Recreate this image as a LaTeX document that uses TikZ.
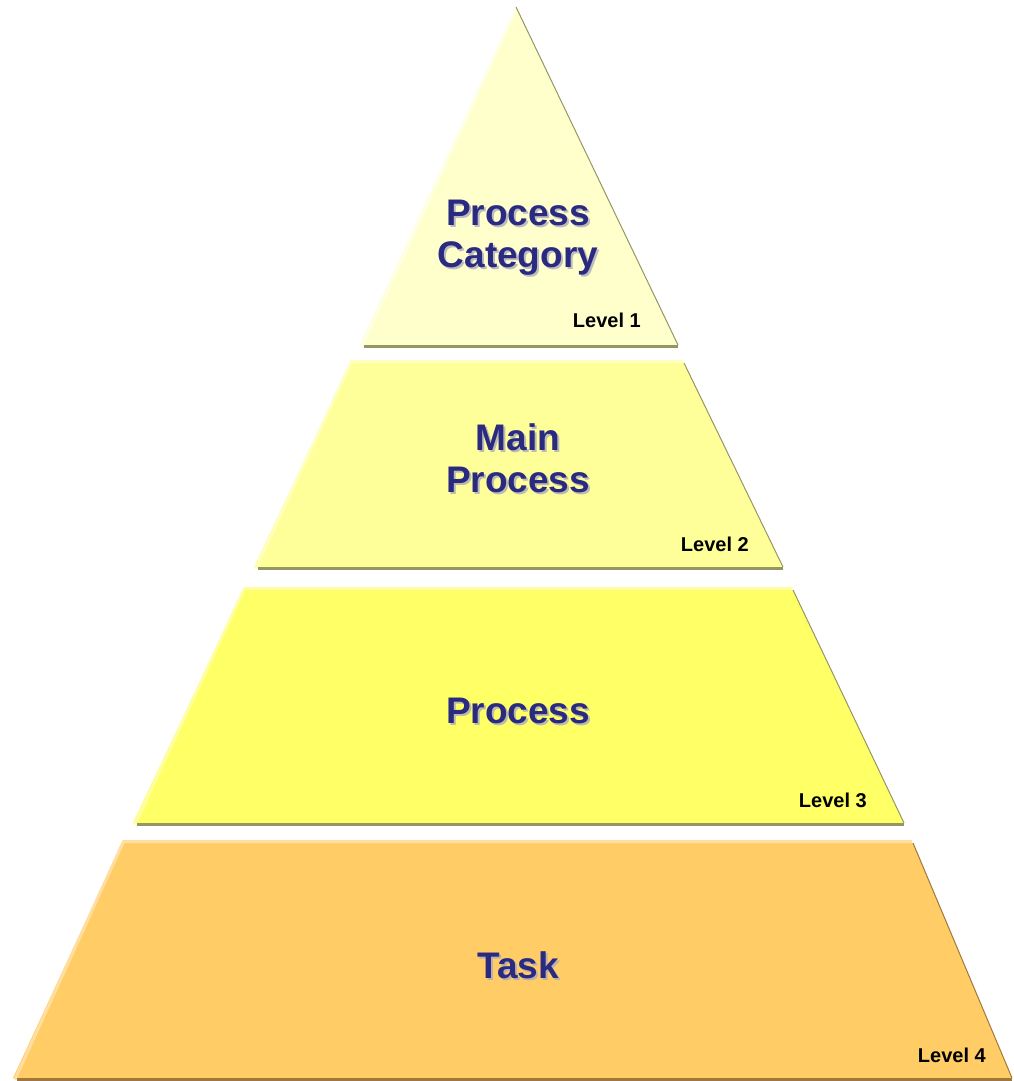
\documentclass[tikz,border=0pt]{standalone}
\usepackage{fontspec}
\setmainfont{Liberation Sans}
\definecolor{navy}{RGB}{42,42,128}
\definecolor{cA}{RGB}{255,255,204}
\definecolor{cB}{RGB}{255,255,153}
\definecolor{cC}{RGB}{255,255,102}
\definecolor{cD}{RGB}{255,204,102}
\definecolor{hA}{RGB}{255,255,225}
\definecolor{hB}{RGB}{255,255,190}
\definecolor{hC}{RGB}{255,255,160}
\definecolor{hD}{RGB}{255,222,160}
\definecolor{sY}{RGB}{150,150,100}
\definecolor{sD}{RGB}{160,120,60}
\definecolor{txtshadow}{RGB}{170,170,190}
\tikzset{
  title/.style={font=\bfseries\fontsize{37}{42}\selectfont, text=navy, inner sep=0pt, anchor=base},
  titleshadow/.style={title, text=txtshadow, opacity=0.8},
  lvl/.style={font=\bfseries\fontsize{20}{24}\selectfont, text=black, inner sep=0pt, anchor=east},
  hilite/.style={line width=3pt, line join=round},
  shadowline/.style={line width=3pt},
  edgeline/.style={line width=1pt}
}
\begin{document}
\begin{tikzpicture}[x=1pt,y=-1pt]
\useasboundingbox (0,0) rectangle (1013,1081);
% ---------- Layer 1 ----------
\coordinate (a1) at (516,7);
\coordinate (b1l) at (360,345);
\coordinate (b1r) at (678,345);
\fill[cA] (a1) -- (b1r) -- (b1l) -- cycle;
\draw[hA, hilite] ([xshift=2pt,yshift=-1.5pt]b1l) -- ([yshift=-3pt]a1);
\draw[sY, shadowline] ([xshift=4pt,yshift=-1.5pt]b1l) -- ([yshift=-1.5pt]b1r);
\draw[sY, edgeline] (a1) -- (b1r);
% ---------- Layer 2 ----------
\coordinate (t2l) at (350,363);
\coordinate (t2r) at (684,363);
\coordinate (b2l) at (254,567);
\coordinate (b2r) at (783,567);
\fill[cB] (t2l) -- (t2r) -- (b2r) -- (b2l) -- cycle;
\draw[hB, hilite] ([xshift=2pt,yshift=-1.5pt]b2l) -- ([xshift=1.5pt,yshift=1.5pt]t2l) -- ([xshift=-1pt,yshift=1.5pt]t2r);
\draw[sY, shadowline] ([xshift=4pt,yshift=-1.5pt]b2l) -- ([yshift=-1.5pt]b2r);
\draw[sY, edgeline] (t2r) -- (b2r);
% ---------- Layer 3 ----------
\coordinate (t3l) at (243,590);
\coordinate (t3r) at (793,590);
\coordinate (b3l) at (133,823);
\coordinate (b3r) at (904,823);
\fill[cC] (t3l) -- (t3r) -- (b3r) -- (b3l) -- cycle;
\draw[hC, hilite] ([xshift=2pt,yshift=-1.5pt]b3l) -- ([xshift=1.5pt,yshift=1.5pt]t3l) -- ([xshift=-1pt,yshift=1.5pt]t3r);
\draw[sY, shadowline] ([xshift=4pt,yshift=-1.5pt]b3l) -- ([yshift=-1.5pt]b3r);
\draw[sY, edgeline] (t3r) -- (b3r);
% ---------- Layer 4 ----------
\coordinate (t4l) at (122,843);
\coordinate (t4r) at (913,843);
\coordinate (b4l) at (13,1078);
\coordinate (b4r) at (1012,1078);
\fill[cD] (t4l) -- (t4r) -- (b4r) -- (b4l) -- cycle;
\draw[hD, hilite] ([xshift=2pt,yshift=-1.5pt]b4l) -- ([xshift=1.5pt,yshift=1.5pt]t4l) -- ([xshift=-1pt,yshift=1.5pt]t4r);
\draw[sD, shadowline] ([xshift=4pt,yshift=-1.5pt]b4l) -- ([yshift=-1.5pt]b4r);
\draw[sD, edgeline] (t4r) -- (b4r);
% ---------- Titles ----------
\node[titleshadow] (s1a) at (520,227) {Process};
\node[titleshadow] (s1b) at (520,269) {Category};
\node[title] (n1a) at (518,225) {Process};
\node[title] (n1b) at (518,267) {Category};
\node[titleshadow] (s2a) at (520,452) {Main};
\node[titleshadow] (s2b) at (520,494) {Process};
\node[title] (n2a) at (518,450) {Main};
\node[title] (n2b) at (518,492) {Process};
\node[titleshadow] (s3) at (520,725) {Process};
\node[title] (n3) at (518,723) {Process};
\node[titleshadow] (s4) at (520,980) {Task};
\node[title] (n4) at (518,978) {Task};
% ---------- Level labels ----------
\node[lvl] (l1) at (641,320) {Level 1};
\node[lvl] (l2) at (749,544) {Level 2};
\node[lvl] (l3) at (867,800) {Level 3};
\node[lvl] (l4) at (986,1055) {Level 4};
\end{tikzpicture}
\end{document}
